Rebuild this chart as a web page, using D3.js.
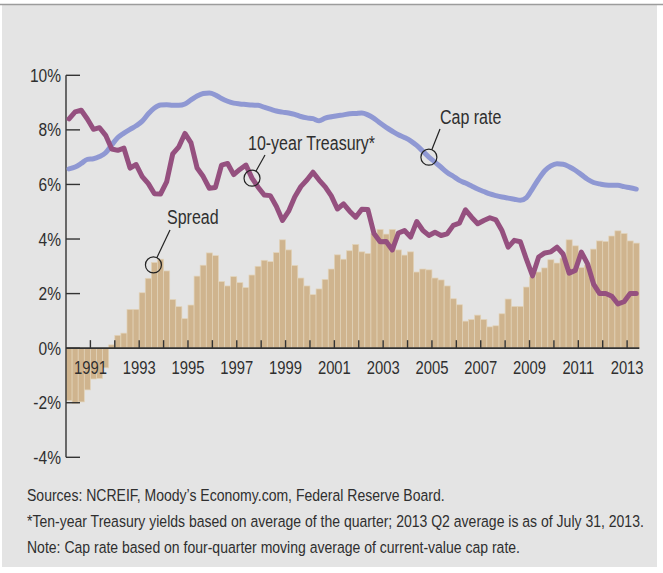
<!DOCTYPE html>
<html>
<head>
<meta charset="utf-8">
<script src="https://cdn.jsdelivr.net/npm/d3@7"></script>
<style>
  html, body { margin: 0; padding: 0; background: #fff; }
  svg { display: block; }
  text { font-family: "Liberation Sans", Arial, sans-serif; fill: #2f2f2f; }
</style>
</head>
<body>
<svg id="chart" width="663" height="573"></svg>
<script>
// quarterly data, 1990 Q1 .. 2013 Q2
const startYear = 1990;
const spread = [
  -1.92, -2.02, -1.97, -1.53, -1.13, -1.11, -0.72, 0.12, 0.47, 0.55,
  1.42, 1.42, 2.03, 2.56, 3.14, 3.26, 2.83, 1.78, 1.52, 1.08,
  1.58, 2.64, 3.04, 3.49, 3.39, 2.44, 2.28, 2.62, 2.40, 2.22,
  2.68, 3.00, 3.22, 3.17, 3.50, 3.97, 3.60, 3.03, 2.57, 2.28,
  1.96, 2.17, 2.52, 2.90, 3.42, 3.26, 3.57, 3.80, 3.53, 3.47,
  4.20, 4.35, 4.18, 4.35, 3.60, 3.41, 3.53, 2.79, 2.90, 2.87,
  2.57, 2.50, 2.28, 1.81, 1.59, 0.99, 1.05, 1.21, 1.05, 0.78,
  0.82, 1.26, 1.80, 1.53, 1.53, 2.24, 2.61, 2.79, 2.94, 3.24,
  3.12, 3.30, 3.97, 3.75, 2.95, 3.05, 3.63, 3.93, 3.91, 4.11,
  4.30, 4.20, 3.93, 3.85
];
const capRate = [
  6.57, 6.64, 6.77, 6.92, 6.94, 7.02, 7.16, 7.45, 7.72, 7.88,
  8.02, 8.15, 8.32, 8.59, 8.80, 8.91, 8.92, 8.90, 8.90, 8.95,
  9.10, 9.24, 9.33, 9.35, 9.28, 9.15, 9.05, 8.98, 8.95, 8.93,
  8.91, 8.90, 8.83, 8.76, 8.69, 8.65, 8.62, 8.57, 8.49, 8.44,
  8.41, 8.33, 8.43, 8.48, 8.52, 8.55, 8.59, 8.60, 8.62, 8.55,
  8.42, 8.25, 8.09, 7.95, 7.82, 7.72, 7.60, 7.43, 7.22, 7.00,
  6.82, 6.63, 6.44, 6.30, 6.15, 6.05, 5.94, 5.83, 5.74, 5.65,
  5.59, 5.54, 5.50, 5.46, 5.42, 5.52, 5.85, 6.20, 6.50, 6.68,
  6.76, 6.74, 6.65, 6.52, 6.36, 6.19, 6.07, 6.02, 5.98, 5.97,
  5.97, 5.92, 5.88, 5.83
];
const treasury = [
  8.40, 8.66, 8.72, 8.40, 8.02, 8.08, 7.80, 7.30, 7.25, 7.33,
  6.60, 6.73, 6.29, 6.03, 5.66, 5.65, 6.09, 7.12, 7.38, 7.87,
  7.52, 6.60, 6.29, 5.86, 5.89, 6.71, 6.77, 6.36, 6.55, 6.71,
  6.23, 5.90, 5.61, 5.59, 5.19, 4.68, 5.02, 5.54, 5.92, 6.16,
  6.45, 6.16, 5.91, 5.58, 5.10, 5.29, 5.02, 4.80, 5.09, 5.08,
  4.20, 3.90, 3.91, 3.60, 4.22, 4.31, 4.07, 4.64, 4.32, 4.13,
  4.25, 4.13, 4.19, 4.50, 4.58, 5.07, 4.80, 4.56, 4.68, 4.78,
  4.70, 4.30, 3.70, 3.95, 3.90, 3.25, 2.65, 3.34, 3.49, 3.53,
  3.70, 3.45, 2.75, 2.85, 3.52, 3.10, 2.35, 2.00, 2.00, 1.90,
  1.62, 1.70, 2.00, 2.00
];
const yTicks = [-4, -2, 0, 2, 4, 6, 8, 10];
const yearTicks = [1991, 1992, 1993, 1994, 1995, 1996, 1997, 1998, 1999, 2000, 2001,
  2002, 2003, 2004, 2005, 2006, 2007, 2008, 2009, 2010, 2011, 2012, 2013];
const notes = [
  'Sources: NCREIF, Moody\u2019s Economy.com, Federal Reserve Board.',
  '*Ten-year Treasury yields based on average of the quarter; 2013 Q2 average is as of July 31, 2013.',
  'Note: Cap rate based on four-quarter moving average of current-value cap rate.'
];

const svg = d3.select('#chart');
const width = +svg.attr('width');
const height = +svg.attr('height');

// panel
svg.append('rect').attr('x', 2).attr('y', 5).attr('width', width - 8).attr('height', 562)
  .attr('fill', '#e4e4e4');
svg.append('line').attr('x1', 0).attr('x2', width).attr('y1', 4.5).attr('y2', 4.5)
  .attr('stroke', '#9c9c9c').attr('stroke-width', 1.5);

const x = d3.scaleLinear().domain([startYear, 2013.5]).range([66, 639.3]);
const y = d3.scaleLinear().domain([-4, 10]).range([457.3, 75.3]);
const q = (i) => startYear + i / 4;
const qMid = (i) => startYear + (i + 0.5) / 4;

// condensed text helper
function label(g, tx, ty, str, size, sx, anchor) {
  return g.append('text')
    .attr('transform', `translate(${tx},${ty}) scale(${sx},1)`)
    .attr('font-size', size)
    .attr('text-anchor', anchor || 'start')
    .text(str);
}

// bars
svg.append('g').selectAll('rect').data(spread).join('rect')
  .attr('x', (d, i) => x(q(i)))
  .attr('width', (d, i) => x(q(i + 1)) - x(q(i)))
  .attr('y', (d) => y(Math.max(0, d)))
  .attr('height', (d) => Math.abs(y(d) - y(0)))
  .attr('fill', '#cfb48e')
  .attr('stroke', '#e2d3b9')
  .attr('stroke-width', 0.7);

// axes
const axisColor = '#333';
const yAxis = svg.append('g');
yAxis.append('line').attr('x1', 66).attr('x2', 66).attr('y1', y(10)).attr('y2', y(-4))
  .attr('stroke', axisColor).attr('stroke-width', 1.4);
yAxis.selectAll('line.tick').data(yTicks).join('line').attr('class', 'tick')
  .attr('x1', 66).attr('x2', 80).attr('y1', (d) => y(d)).attr('y2', (d) => y(d))
  .attr('stroke', axisColor).attr('stroke-width', 1.4);
yTicks.forEach((t) => {
  label(yAxis, 61, y(t) + 6.5, t + '%', 18.5, 0.84, 'end');
});

const xAxis = svg.append('g');
xAxis.append('line').attr('x1', 66).attr('x2', 639.3).attr('y1', y(0)).attr('y2', y(0))
  .attr('stroke', axisColor).attr('stroke-width', 1.6);
xAxis.selectAll('line.tick').data(yearTicks).join('line').attr('class', 'tick')
  .attr('x1', (d) => x(d)).attr('x2', (d) => x(d))
  .attr('y1', y(0)).attr('y2', y(0) - 8)
  .attr('stroke', axisColor).attr('stroke-width', 1.4);
yearTicks.filter((d) => d % 2 === 1).forEach((d) => {
  label(xAxis, x(d), 374, String(d), 18.5, 0.8, 'middle');
});

// lines
const capLine = d3.line().x((d, i) => x(qMid(i))).y((d) => y(d)).curve(d3.curveMonotoneX);
const tsyLine = d3.line().x((d, i) => x(qMid(i))).y((d) => y(d));

svg.append('path').datum(capRate).attr('d', capLine)
  .attr('fill', 'none').attr('stroke', '#8f98d3').attr('stroke-width', 5)
  .attr('stroke-linecap', 'round').attr('stroke-linejoin', 'round');
svg.append('path').datum(treasury).attr('d', tsyLine)
  .attr('fill', 'none').attr('stroke', '#95507f').attr('stroke-width', 5)
  .attr('stroke-linecap', 'round').attr('stroke-linejoin', 'round');

// callouts
const ann = svg.append('g');
function callout(cx, cy, lx, ly, text, tx, ty) {
  ann.append('circle').attr('cx', cx).attr('cy', cy).attr('r', 8)
    .attr('fill', 'none').attr('stroke', '#222').attr('stroke-width', 1.2);
  const ang = Math.atan2(ly - cy, lx - cx);
  ann.append('line')
    .attr('x1', cx + 8 * Math.cos(ang)).attr('y1', cy + 8 * Math.sin(ang))
    .attr('x2', lx).attr('y2', ly)
    .attr('stroke', '#222').attr('stroke-width', 1.2);
  label(ann, tx, ty, text, 19.5, 0.82, 'start');
}
callout(x(qMid(14)) - 1, y(3.05), 170, 230, 'Spread', 167, 224);
callout(x(qMid(30)), y(treasury[30]), 265, 155, '10-year Treasury*', 248, 150);
callout(x(qMid(59)), y(capRate[59]), 440, 129, 'Cap rate', 440, 124);

// footer notes
notes.forEach((n, i) => {
  label(svg, 27, 501 + i * 26, n, 16.5, 0.85, 'start').attr('fill', '#3a3a3a');
});
</script>
</body>
</html>
